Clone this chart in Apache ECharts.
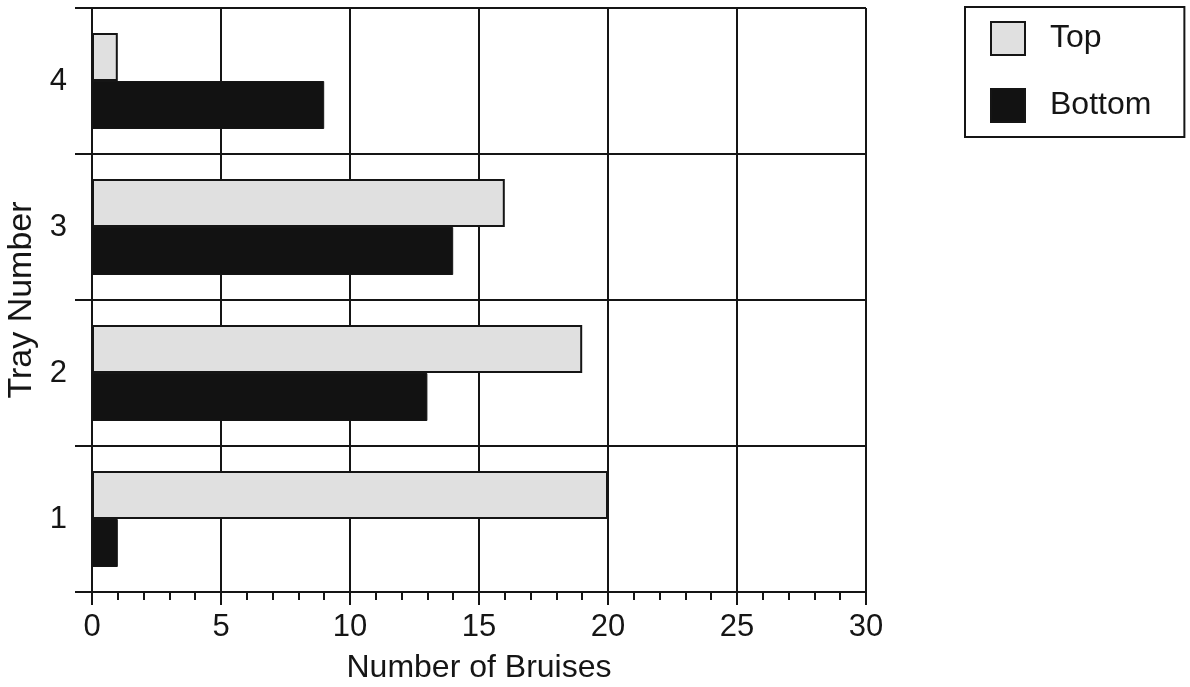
<!DOCTYPE html>
<html>
<head>
<meta charset="utf-8">
<script src="https://cdn.jsdelivr.net/npm/echarts@6/dist/echarts.min.js"></script>
<style>
html,body{margin:0;padding:0;background:#fff;}
#chart{width:1190px;height:687px;}
</style>
</head>
<body>
<div id="chart"></div>
<script>
const trays = ['1', '2', '3', '4'];
const topBruises = [20, 19, 16, 1];
const bottomBruises = [1, 13, 14, 9];
const xTicks = [0, 5, 10, 15, 20, 25, 30];

const ink = '#151515';
const font = '"Liberation Sans", Arial, Helvetica, sans-serif';

const chart = echarts.init(document.getElementById('chart'));
chart.setOption({
  backgroundColor: '#ffffff',
  animation: false,
  grid: { left: 92, right: 324, top: 8, bottom: 95, containLabel: false, outerBoundsMode: 'none' },
  legend: {
    orient: 'vertical',
    left: 965, top: 7,
    padding: [14, 33, 14, 25],
    borderColor: ink, borderWidth: 2,
    itemWidth: 34, itemHeight: 33, itemGap: 32,
    icon: 'rect',
    textStyle: { fontFamily: font, fontSize: 32, lineHeight: 33, color: ink, padding: [0, 0, 0, 20] },
    data: ['Top', 'Bottom']
  },
  xAxis: {
    type: 'value',
    min: xTicks[0], max: xTicks[xTicks.length - 1], interval: 5,
    name: 'Number of Bruises',
    nameLocation: 'middle', nameGap: 60,
    nameTextStyle: { fontFamily: font, fontSize: 32, color: ink },
    axisLine: { show: true, lineStyle: { color: ink, width: 2 } },
    axisTick: { show: true, length: 13, lineStyle: { color: ink, width: 2 } },
    minorTick: { show: true, splitNumber: 5, length: 8, lineStyle: { color: ink, width: 2 } },
    axisLabel: { fontFamily: font, fontSize: 31, color: ink, margin: 20 },
    splitLine: { show: true, lineStyle: { color: ink, width: 2 } }
  },
  yAxis: {
    type: 'category',
    data: trays,
    name: 'Tray Number',
    nameLocation: 'middle', nameGap: 52, nameRotate: 90,
    nameTextStyle: { fontFamily: font, fontSize: 34, color: ink },
    axisLine: { show: true, lineStyle: { color: ink, width: 2 } },
    axisTick: { show: true, length: 17, lineStyle: { color: ink, width: 2 } },
    axisLabel: { fontFamily: font, fontSize: 31, color: ink, margin: 25 },
    splitLine: { show: true, lineStyle: { color: ink, width: 2 } }
  },
  series: [
    {
      name: 'Top', type: 'bar', data: topBruises,
      barWidth: 48, barGap: '0%',
      itemStyle: { color: '#e0e0e0', borderColor: ink, borderWidth: 2 }
    },
    {
      name: 'Bottom', type: 'bar', data: bottomBruises,
      barWidth: 48, barGap: '0%',
      itemStyle: { color: '#121212', borderColor: ink, borderWidth: 1 }
    }
  ]
});
</script>
</body>
</html>
